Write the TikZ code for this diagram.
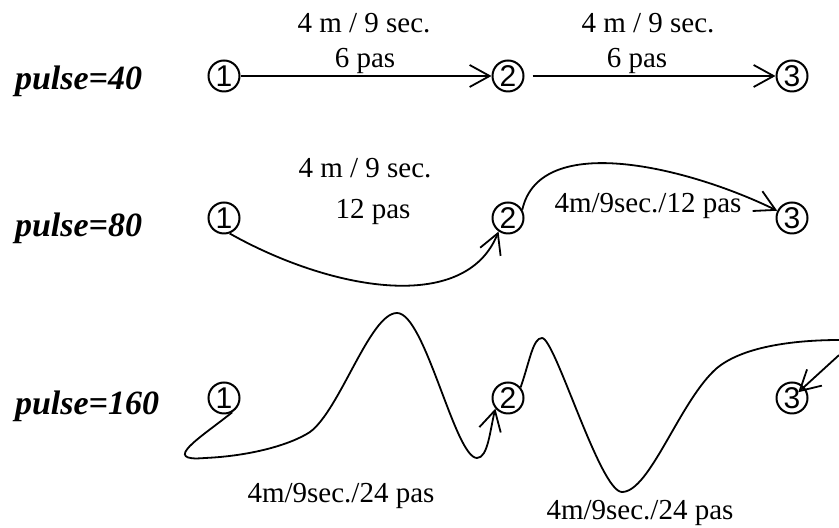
\documentclass[tikz,border=0pt]{standalone}
\usepackage{fontspec}
\setmainfont{Liberation Serif}
\newfontfamily\digitfont{Liberation Sans}
\usetikzlibrary{arrows.meta}
\tikzset{
  stn/.style={circle,draw,line width=1pt,minimum size=15.5pt,inner sep=0pt,font=\digitfont\fontsize{15}{15}\selectfont},
  rowlab/.style={anchor=base west,font=\fontsize{17}{19}\selectfont\bfseries\itshape},
  lab/.style={anchor=base,font=\fontsize{14.5}{17}\selectfont},
  path/.style={line width=0.9pt,->}
}
\begin{document}
\begin{tikzpicture}[x=0.5pt,y=0.5pt,>={Straight Barb[length=10pt,width=11pt]}]
\useasboundingbox (0,0) rectangle (839,528);
\foreach \r/\y in {1/452,2/310,3/130} {
  \node[stn] (a\r) at (224,\y) {1};
  \node[stn] (b\r) at (508,\y) {2};
  \node[stn] (c\r) at (792,\y) {3};
}
\node[rowlab] (p1) at (8,438) {pulse=40};
\node[rowlab] (p2) at (8,291) {pulse=80};
\node[rowlab] (p3) at (8,113) {pulse=160};
\node[lab] (t1) at (364,495) {4 m / 9 sec.};
\node[lab] (s1) at (365,460) {6 pas};
\node[lab] (t2) at (648,495) {4 m / 9 sec.};
\node[lab] (s2) at (637,460) {6 pas};
\node[lab] (t3) at (365,350) {4 m / 9 sec.};
\node[lab] (s3) at (373,309) {12 pas};
\node[lab] (t4) at (648,315) {4m/9sec./12 pas};
\node[lab] (t5) at (341,25) {4m/9sec./24 pas};
\node[lab] (t6) at (640,8) {4m/9sec./24 pas};
\draw[path] (a1) -- (b1);
\draw[path,shorten <=4pt] (b1) -- (c1);
\draw[path] (a2.-70) .. controls (330,238) and (465,213) .. (b2.-125);
\draw[path] (b2.30) .. controls (540,398) and (690,360) .. (c2);
\draw[path] (a3.-60) .. controls (200,90) and (160,66) .. (205,70)
  .. controls (250,72) and (290,83) .. (310,96)
  .. controls (340,118) and (370,215) .. (397,215)
  .. controls (425,215) and (455,70) .. (477,70)
  .. controls (488,70) and (490,98) .. (b3.-140);
\draw[path,shorten >=-4pt] (b3.40) .. controls (530,168) and (533,190) .. (542,190)
  .. controls (555,190) and (600,36) .. (622,36)
  .. controls (650,36) and (680,128) .. (717,160)
  .. controls (745,183) and (800,188) .. (840,188)
  .. controls (858,188) and (856,182) .. (838,172) -- (c3);
\end{tikzpicture}
\end{document}
